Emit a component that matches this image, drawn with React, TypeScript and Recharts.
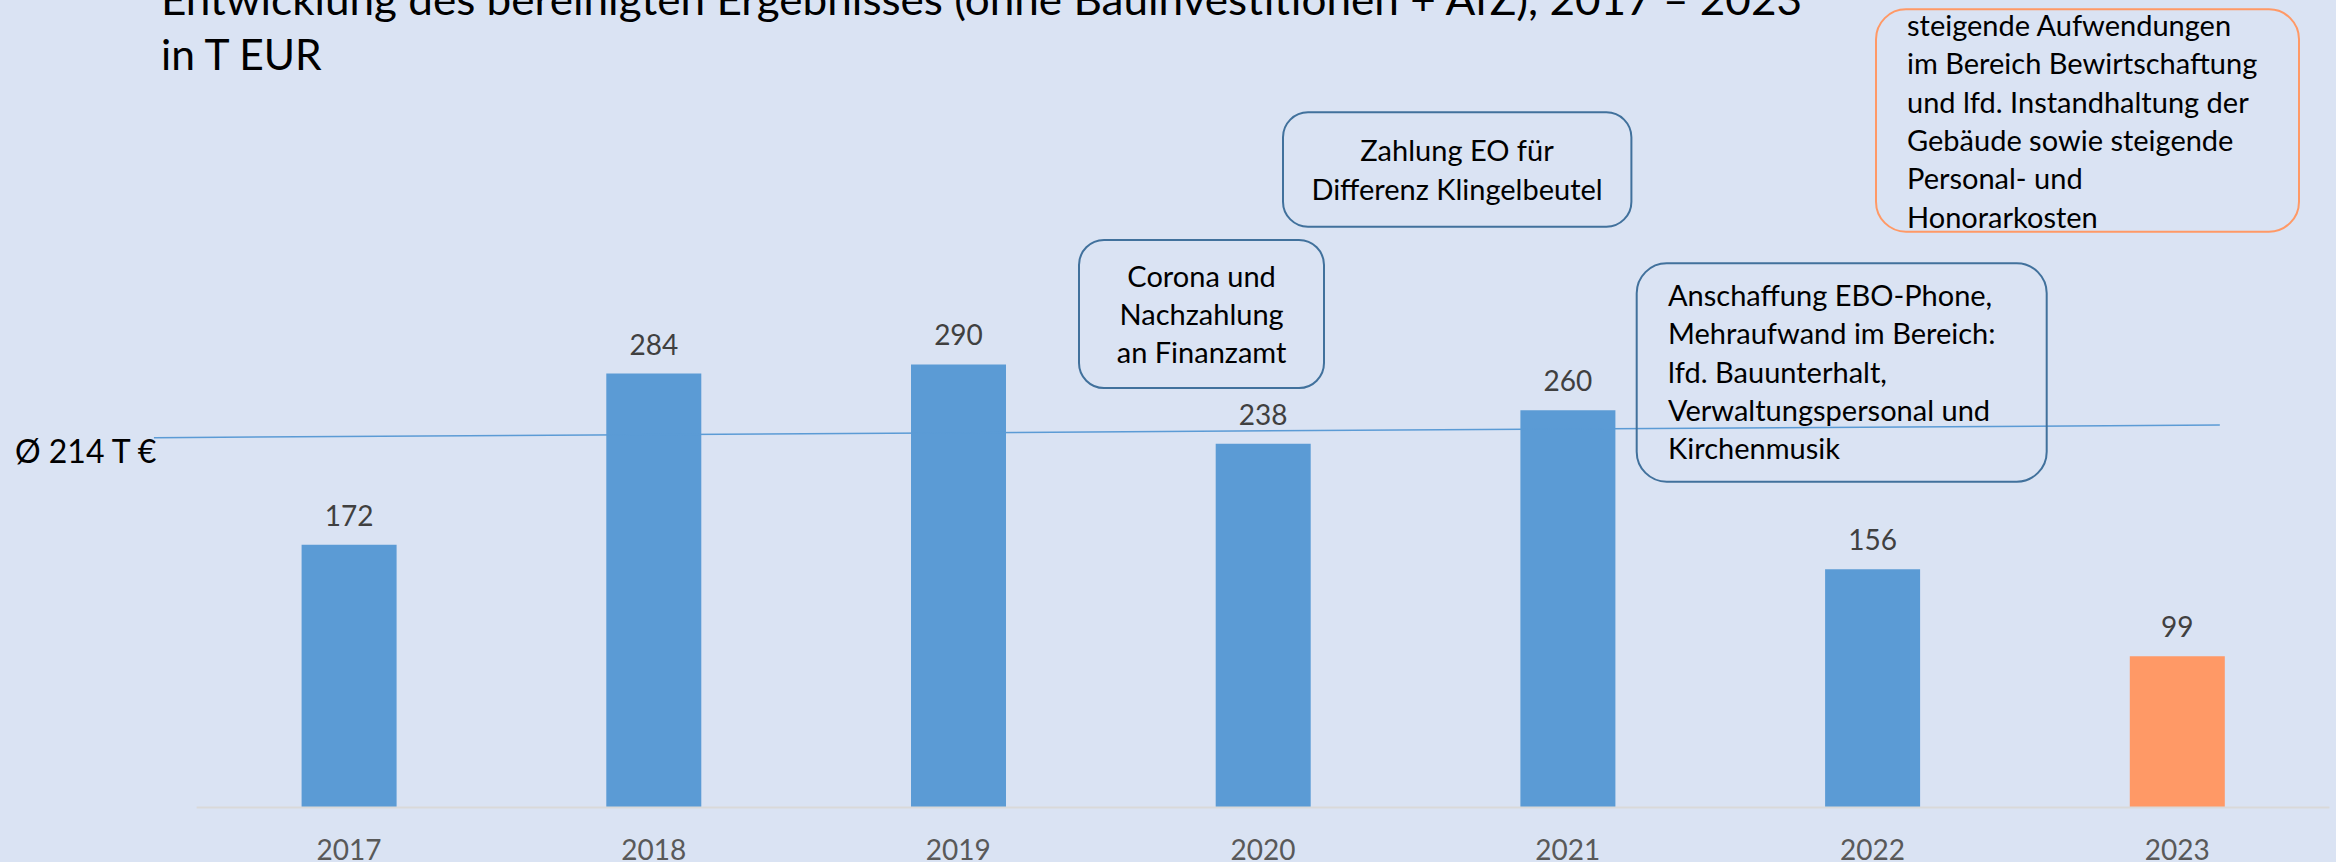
import React from 'react';
import { BarChart, Bar, XAxis, YAxis, Cell, LabelList, ReferenceLine } from 'recharts';

const years = ['2017', '2018', '2019', '2020', '2021', '2022', '2023'];
const values = [172, 284, 290, 238, 260, 156, 99];
const barColors = ['#5B9BD5', '#5B9BD5', '#5B9BD5', '#5B9BD5', '#5B9BD5', '#5B9BD5', '#FF9966'];
const titleLines = [
  'Entwicklung des bereinigten Ergebnisses (ohne Bauinvestitionen + AfZ), 2017 – 2023',
  'in T EUR',
];
const avgLabel = 'Ø 214 T €';
const avgLineStart = { x: -0.64, y: 242 };
const avgLineEnd = { x: 6.14, y: 250.3 };

const noteCorona = ['Corona und', 'Nachzahlung', 'an Finanzamt'];
const noteEO = ['Zahlung EO für', 'Differenz Klingelbeutel'];
const noteEBO = [
  'Anschaffung EBO-Phone,',
  'Mehraufwand im Bereich:',
  'lfd. Bauunterhalt,',
  'Verwaltungspersonal und',
  'Kirchenmusik',
];
const note2023 = [
  'steigende Aufwendungen',
  'im Bereich Bewirtschaftung',
  'und lfd. Instandhaltung der',
  'Gebäude sowie steigende',
  'Personal- und',
  'Honorarkosten',
];

const data = years.map((year, i) => ({ idx: i, year, value: values[i] }));
const tickIdx = years.map((_, i) => i);

const FONT = 'Lato, "Open Sans", sans-serif';

const YearTick = (props: any) => {
  const { x, y, payload } = props;
  return (
    <text x={x} y={y + 52} textAnchor="middle" fill="#595959" fontSize={28} fontFamily={FONT}>
      {years[payload.value]}
    </text>
  );
};

const Note = ({ x, y, w, h, rx, stroke, lines, anchor, tx, baseline, step, size }: any) => (
  <g>
    <rect x={x} y={y} width={w} height={h} rx={rx} ry={rx} fill="none" stroke={stroke} strokeWidth={2} />
    {lines.map((l: string, i: number) => (
      <text key={i} x={tx} y={baseline + i * step} textAnchor={anchor} fontSize={size} fontFamily={FONT} fill="#000">
        {l}
      </text>
    ))}
  </g>
);

export default function App() {
  return (
    <div style={{ position: 'absolute', left: 0, top: 0, width: 2336, height: 862, background: '#DAE3F3', overflow: 'hidden' }}>
      <BarChart
        width={2336}
        height={862}
        data={data}
        margin={{ top: 272.7, right: 6.5, bottom: 0, left: 196.6 }}
        style={{ fontFamily: FONT }}
      >
        <XAxis
          dataKey="idx"
          type="number"
          domain={[-0.5, 6.5]}
          allowDataOverflow
          ticks={tickIdx}
          height={54.5}
          axisLine={{ stroke: '#D9D9D9', strokeWidth: 2 }}
          tickLine={false}
          tickSize={0}
          tickMargin={0}
          tick={<YearTick />}
          interval={0}
        />
        <YAxis domain={[0, 350]} hide allowDataOverflow />
        <Bar dataKey="value" barSize={95} isAnimationActive={false}>
          {data.map((d, i) => (
            <Cell key={d.year} fill={barColors[i]} />
          ))}
          <LabelList dataKey="value" position="top" offset={19} fill="#404040" fontSize={28} fontFamily={FONT} />
        </Bar>
        <ReferenceLine
          segment={[avgLineStart, avgLineEnd]}
          stroke="#5B9BD5"
          strokeWidth={1.5}
          ifOverflow="visible"
        />
      </BarChart>
      <svg width={2336} height={862} style={{ position: 'absolute', left: 0, top: 0, pointerEvents: 'none' }}>
        <text x={161} y={15} fontSize={42.5} fontFamily={FONT} fill="#000" textLength={1641} lengthAdjust="spacingAndGlyphs">
          {titleLines[0]}
        </text>
        <text x={161} y={70} fontSize={42.5} fontFamily={FONT} fill="#000">
          {titleLines[1]}
        </text>
        <text x={15} y={463} fontSize={32} fontFamily={FONT} fill="#000">
          {avgLabel}
        </text>
        <Note x={1079} y={240} w={245} h={148} rx={25} stroke="#41719C" lines={noteCorona} anchor="middle" tx={1201.6} baseline={286.7} step={38.3} size={29} />
        <Note x={1283} y={112.3} w={348.4} h={114.4} rx={25} stroke="#41719C" lines={noteEO} anchor="middle" tx={1457} baseline={161} step={39} size={29} />
        <Note x={1636.7} y={263.3} w={410} h={218.4} rx={30} stroke="#41719C" lines={noteEBO} anchor="start" tx={1668} baseline={306} step={38.3} size={29} />
        <Note x={1876} y={9.3} w={423} h={222.4} rx={30} stroke="#FF9966" lines={note2023} anchor="start" tx={1907} baseline={35.7} step={38.4} size={29} />
      </svg>
    </div>
  );
}
